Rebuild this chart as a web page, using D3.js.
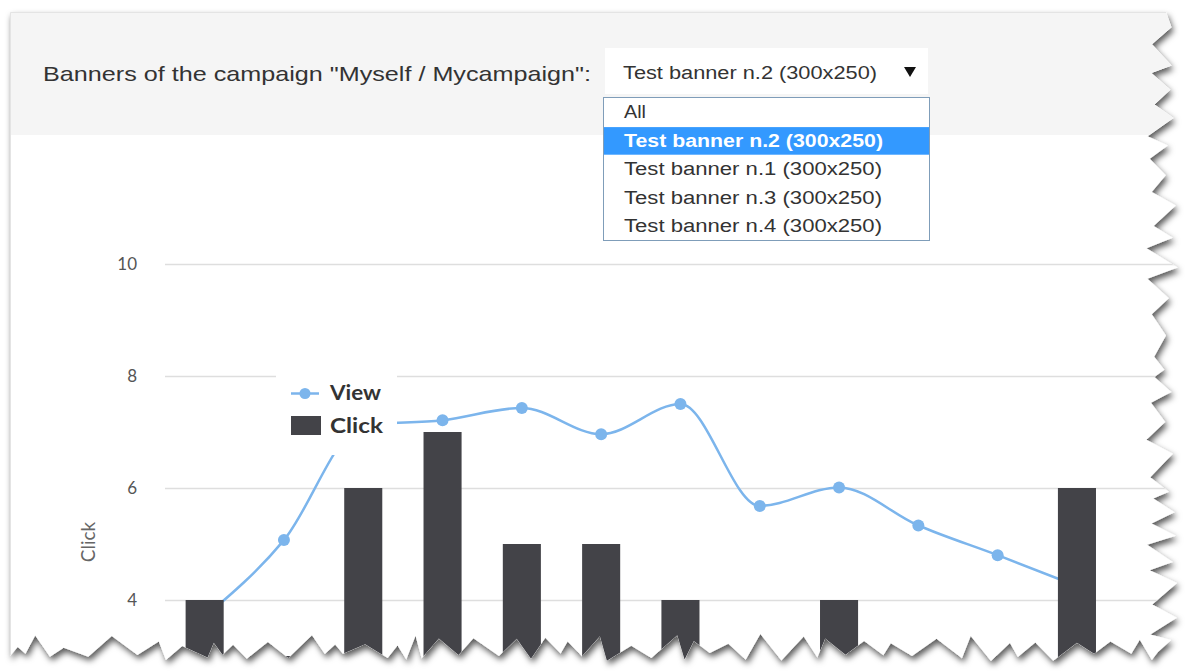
<!DOCTYPE html>
<html>
<head>
<meta charset="utf-8">
<script src="https://cdn.jsdelivr.net/npm/d3@7/dist/d3.min.js"></script>
<style>
  body { margin: 0; background: #fff; }
  svg { display: block; }
</style>
</head>
<body>
<svg id="chart" width="1185" height="671"></svg>
<script>
// ---- data ----
const days = ["01", "02", "03", "04", "05", "06", "07", "08", "09", "10", "11", "12"];
const clicks = [4, 3, 6, 7, 5, 5, 4, 2, 4, 3, 2, 6];
const views = [3.7, 5.07, 7.12, 7.21, 7.43, 6.96, 7.5, 5.68, 6.01, 5.33, 4.8, 4.25];
const yTicks = [4, 6, 8, 10];
const seriesNames = ["View", "Click"];
const campaignLabel = 'Banners of the campaign "Myself / Mycampaign":';
const bannerOptions = ["All", "Test banner n.2 (300x250)", "Test banner n.1 (300x250)", "Test banner n.3 (300x250)", "Test banner n.4 (300x250)"];
const selectedBanner = "Test banner n.2 (300x250)";

// ---- styles ----
const VIEW_COLOR = "#7cb5ec";
const CLICK_COLOR = "#434348";
const GRID_COLOR = "#dedede";
const UI_FONT = "'Liberation Sans', Arial, sans-serif";
const CHART_FONT = "Lato, 'Open Sans', sans-serif";

const svg = d3.select("#chart");
const defs = svg.append("defs");

// ---- torn sheet outline (seeded jitter so the edge is stable) ----
function mulberry32(a) {
  return function () {
    a |= 0; a = a + 0x6D2B79F5 | 0;
    let t = Math.imul(a ^ a >>> 15, 1 | a);
    t = t + Math.imul(t ^ t >>> 7, 61 | t) ^ t;
    return ((t ^ t >>> 14) >>> 0) / 4294967296;
  };
}
const rnd = mulberry32(11);
const edge = [[10, 12], [1166, 12]];
let ey = 12, out = false;
while (ey < 636) {
  ey += 6 + rnd() * 18; out = !out;
  edge.push([out ? 1164 + rnd() * 14 : 1146 + rnd() * 10, Math.min(ey, 640)]);
}
edge.push([1158, 652]);
let ex = 1158; out = false;
while (ex > 22) {
  ex -= 6 + rnd() * 20; out = !out;
  edge.push([Math.max(ex, 12), out ? 653 + rnd() * 8 : 634 + rnd() * 14]);
}
edge.push([10, 656]);
const sheetPath = d3.line()(edge) + "Z";

const shadow = defs.append("filter").attr("id", "sheetShadow")
  .attr("x", "-5%").attr("y", "-5%").attr("width", "112%").attr("height", "115%");
shadow.append("feDropShadow").attr("dx", 2).attr("dy", 4).attr("stdDeviation", 3)
  .attr("flood-color", "#000").attr("flood-opacity", 0.65);

defs.append("clipPath").attr("id", "sheetClip").append("path").attr("d", sheetPath);

svg.append("path").attr("d", sheetPath).attr("fill", "#fff").attr("filter", "url(#sheetShadow)");

const sheet = svg.append("g").attr("clip-path", "url(#sheetClip)");

// header band
sheet.append("rect").attr("x", 10).attr("y", 12).attr("width", 1175).attr("height", 123).attr("fill", "#f5f5f5");
sheet.append("path").attr("d", "M10.5,660V12.5H1185").attr("fill", "none").attr("stroke", "#e4e4e4").attr("stroke-width", 1);

sheet.append("text").attr("x", 43).attr("y", 81)
  .attr("font-family", UI_FONT).attr("font-size", 21).attr("fill", "#333")
  .attr("textLength", 548).attr("lengthAdjust", "spacingAndGlyphs")
  .text(campaignLabel);

// ---- chart ----
const x = d3.scaleBand().domain(days).range([165, 1116.6]).paddingInner(0.52).paddingOuter(0.26);
const y = d3.scaleLinear().domain([0, 10]).range([824, 264]);

const yAxis = d3.axisLeft(y).tickValues(yTicks).tickSize(-(1185 - 165)).tickPadding(28);
const ax = sheet.append("g").attr("transform", "translate(165,0)").call(yAxis);
ax.select(".domain").remove();
ax.selectAll(".tick line").attr("stroke", GRID_COLOR).attr("stroke-width", 1.6);
ax.selectAll(".tick text").attr("font-family", CHART_FONT).attr("font-size", 17).attr("fill", "#555");

sheet.append("text")
  .attr("transform", "translate(95,542) rotate(-90)")
  .attr("text-anchor", "middle")
  .attr("font-family", CHART_FONT).attr("font-size", 19).attr("fill", "#666")
  .text("Click");

const cx = d => x(d) + x.bandwidth() / 2;

// View: smooth line with markers
const viewLine = d3.line().x((v, i) => cx(days[i])).y(v => y(v)).curve(d3.curveMonotoneX);
sheet.append("path").datum(views).attr("d", viewLine)
  .attr("fill", "none").attr("stroke", VIEW_COLOR).attr("stroke-width", 2.5);
sheet.append("g").selectAll("circle").data(views).join("circle")
  .attr("cx", (v, i) => cx(days[i])).attr("cy", v => y(v)).attr("r", 6)
  .attr("fill", VIEW_COLOR);

// Click: columns
sheet.append("g").selectAll("rect").data(clicks).join("rect")
  .attr("x", (v, i) => x(days[i])).attr("y", v => y(v))
  .attr("width", x.bandwidth()).attr("height", v => y(0) - y(v))
  .attr("fill", CLICK_COLOR);

// legend
const lg = sheet.append("g");
lg.append("rect").attr("x", 276).attr("y", 370).attr("width", 121).attr("height", 85).attr("fill", "#fff");
lg.append("line").attr("x1", 291).attr("x2", 319).attr("y1", 393.5).attr("y2", 393.5)
  .attr("stroke", VIEW_COLOR).attr("stroke-width", 2.5);
lg.append("circle").attr("cx", 305).attr("cy", 393.5).attr("r", 5.5).attr("fill", VIEW_COLOR);
lg.append("rect").attr("x", 291).attr("y", 416).attr("width", 30).attr("height", 19).attr("fill", CLICK_COLOR);
lg.selectAll("text.item").data(seriesNames).join("text").attr("class", "item")
  .attr("x", 330).attr("y", (d, i) => 399.5 + i * 33.5)
  .attr("font-family", CHART_FONT).attr("font-weight", 700).attr("font-size", 20).attr("fill", "#333")
  .attr("textLength", (d, i) => i === 0 ? 51 : 53).attr("lengthAdjust", "spacingAndGlyphs")
  .text(d => d);

// ---- banner selector ----
const sel = sheet.append("g");
sel.append("rect").attr("x", 605).attr("y", 48).attr("width", 323).attr("height", 46).attr("fill", "#fff");
sel.append("text").attr("x", 623).attr("y", 79)
  .attr("font-family", UI_FONT).attr("font-size", 18).attr("fill", "#333")
  .attr("textLength", 254).attr("lengthAdjust", "spacingAndGlyphs")
  .text(selectedBanner);
sel.append("path").attr("d", "M904,67H916L910,77Z").attr("fill", "#111");

const rowH = 28.6, listTop = 97.5;
sel.append("rect").attr("x", 603.5).attr("y", listTop).attr("width", 326).attr("height", rowH * bannerOptions.length)
  .attr("fill", "#fff").attr("stroke", "#7f9db9").attr("stroke-width", 1);
const selIdx = bannerOptions.indexOf(selectedBanner);
sel.append("rect").attr("x", 604).attr("y", listTop + rowH * selIdx + 1).attr("width", 325).attr("height", rowH - 1)
  .attr("fill", "#3399ff");
sel.selectAll("text.opt").data(bannerOptions).join("text").attr("class", "opt")
  .attr("x", 624).attr("y", (d, i) => listTop + 20.5 + i * rowH)
  .attr("font-family", UI_FONT).attr("font-size", 18)
  .attr("font-weight", d => d === selectedBanner ? 700 : 400)
  .attr("fill", d => d === selectedBanner ? "#fff" : "#333")
  .attr("textLength", d => d === "All" ? 22 : (d === selectedBanner ? 259 : 258))
  .attr("lengthAdjust", "spacingAndGlyphs")
  .text(d => d);
</script>
</body>
</html>
